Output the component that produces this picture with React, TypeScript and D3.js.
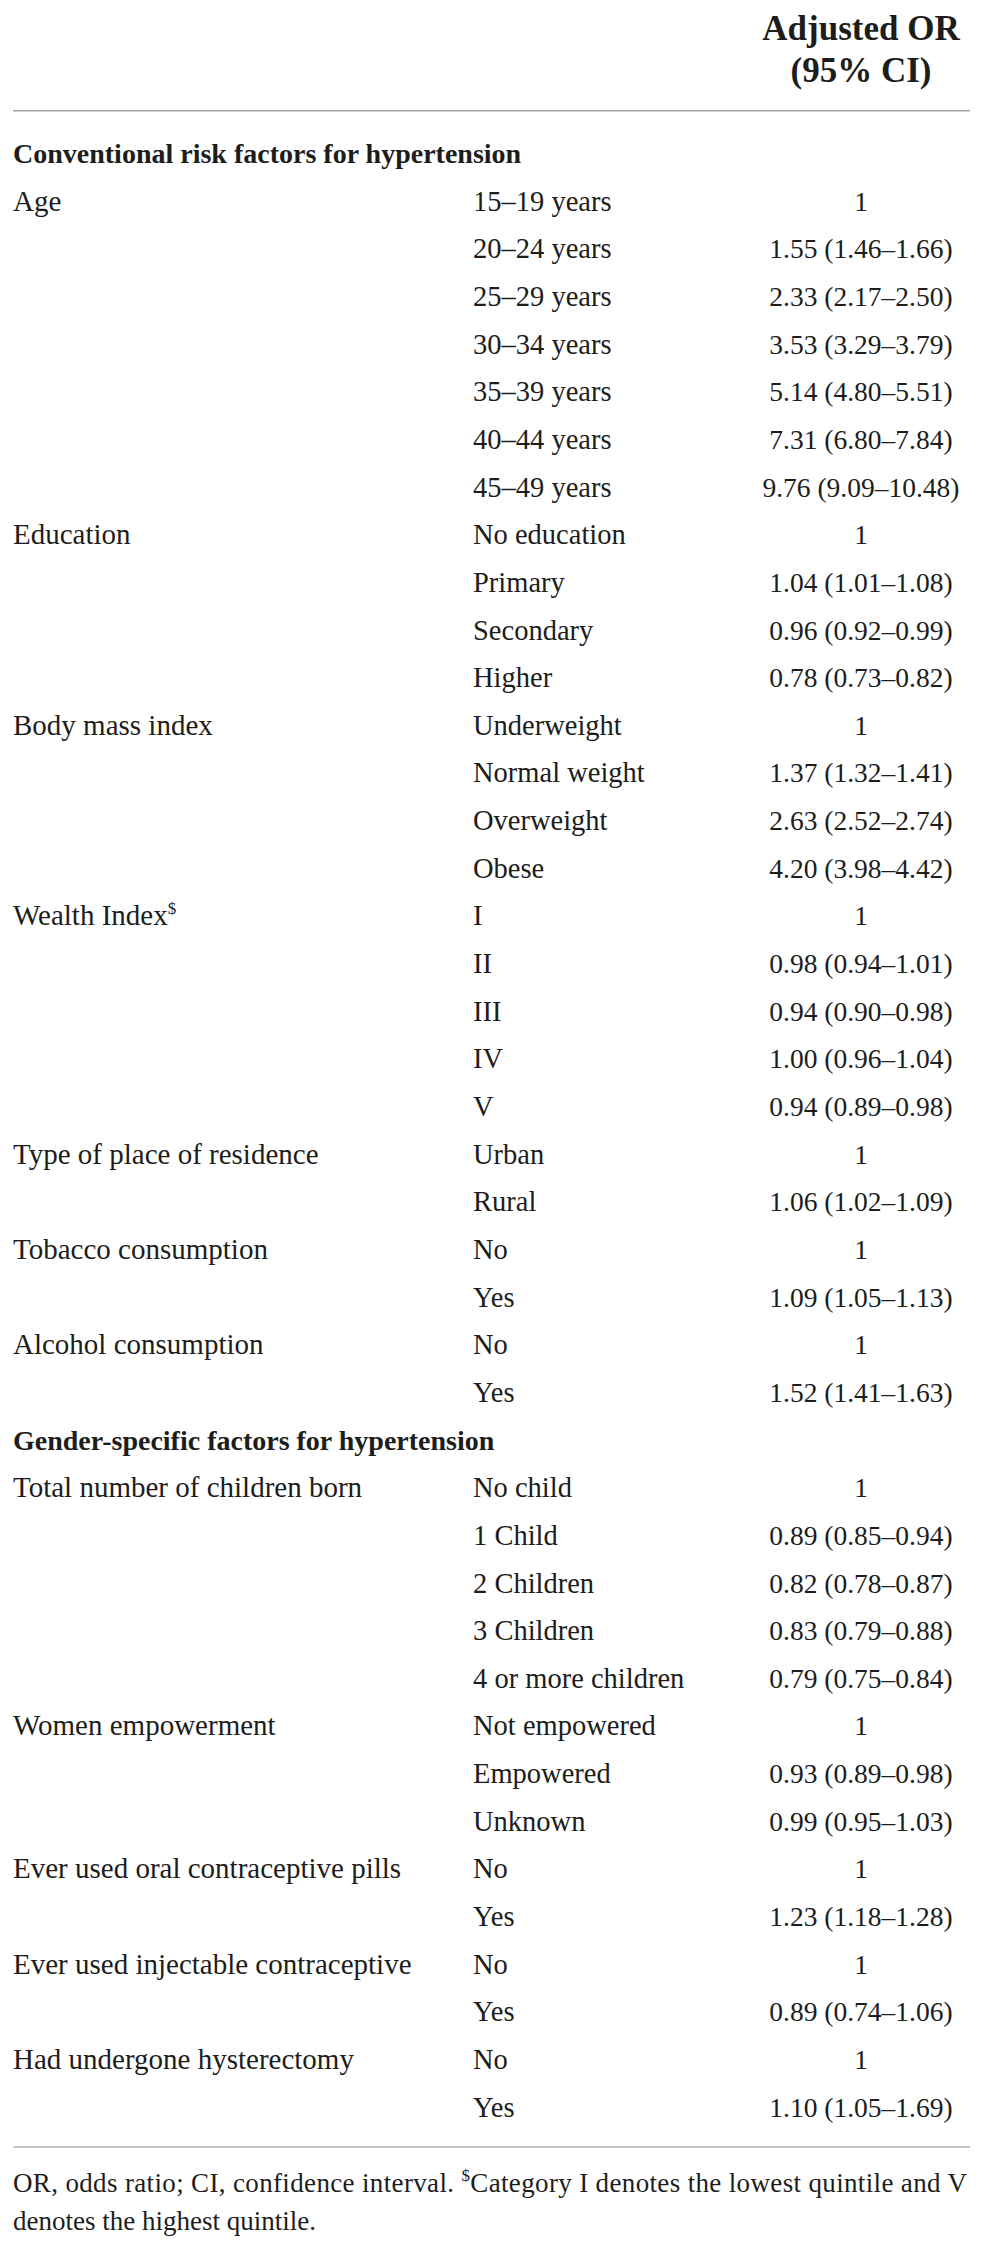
import React from "react";
import * as d3 from "d3";

const sectionTitles = [
  "Conventional risk factors for hypertension",
  "Gender-specific factors for hypertension",
];

const factorNames = [
  "Age",
  "Education",
  "Body mass index",
  "Wealth Index",
  "Type of place of residence",
  "Tobacco consumption",
  "Alcohol consumption",
  "Total number of children born",
  "Women empowerment",
  "Ever used oral contraceptive pills",
  "Ever used injectable contraceptive",
  "Had undergone hysterectomy",
];
const factorSection = [0, 0, 0, 0, 0, 0, 0, 1, 1, 1, 1, 1];
const factorMark = ["", "", "", "$", "", "", "", "", "", "", "", ""];

const categories = [
  ["15–19 years", "20–24 years", "25–29 years", "30–34 years", "35–39 years", "40–44 years", "45–49 years"],
  ["No education", "Primary", "Secondary", "Higher"],
  ["Underweight", "Normal weight", "Overweight", "Obese"],
  ["I", "II", "III", "IV", "V"],
  ["Urban", "Rural"],
  ["No", "Yes"],
  ["No", "Yes"],
  ["No child", "1 Child", "2 Children", "3 Children", "4 or more children"],
  ["Not empowered", "Empowered", "Unknown"],
  ["No", "Yes"],
  ["No", "Yes"],
  ["No", "Yes"],
];

const oddsRatio = [
  [1, 1.55, 2.33, 3.53, 5.14, 7.31, 9.76],
  [1, 1.04, 0.96, 0.78],
  [1, 1.37, 2.63, 4.2],
  [1, 0.98, 0.94, 1.0, 0.94],
  [1, 1.06],
  [1, 1.09],
  [1, 1.52],
  [1, 0.89, 0.82, 0.83, 0.79],
  [1, 0.93, 0.99],
  [1, 1.23],
  [1, 0.89],
  [1, 1.1],
];

const ciLower = [
  [null, 1.46, 2.17, 3.29, 4.8, 6.8, 9.09],
  [null, 1.01, 0.92, 0.73],
  [null, 1.32, 2.52, 3.98],
  [null, 0.94, 0.9, 0.96, 0.89],
  [null, 1.02],
  [null, 1.05],
  [null, 1.41],
  [null, 0.85, 0.78, 0.79, 0.75],
  [null, 0.89, 0.95],
  [null, 1.18],
  [null, 0.74],
  [null, 1.05],
];

const ciUpper = [
  [null, 1.66, 2.5, 3.79, 5.51, 7.84, 10.48],
  [null, 1.08, 0.99, 0.82],
  [null, 1.41, 2.74, 4.42],
  [null, 1.01, 0.98, 1.04, 0.98],
  [null, 1.09],
  [null, 1.13],
  [null, 1.63],
  [null, 0.94, 0.87, 0.88, 0.84],
  [null, 0.98, 1.03],
  [null, 1.28],
  [null, 1.06],
  [null, 1.69],
];

const headerLines = ["Adjusted OR", "(95% CI)"];
const footnoteA = "OR, odds ratio; CI, confidence interval. ";
const footnoteMark = "$";
const footnoteB = "Category I denotes the lowest quintile and V";
const footnoteC = "denotes the highest quintile.";

type Row =
  | { kind: "section"; text: string }
  | { kind: "data"; factor: string; mark: string; category: string; value: string };

export default function App() {
  const W = 982;
  const H = 2247;
  const font = "'Liberation Serif', 'Times New Roman', serif";
  const ink = "#1d1d1b";
  const fmt = d3.format(".2f");

  const rows: Row[] = [];
  sectionTitles.forEach((title, s) => {
    rows.push({ kind: "section", text: title });
    factorNames.forEach((name, f) => {
      if (factorSection[f] !== s) return;
      categories[f].forEach((cat, c) => {
        const lo = ciLower[f][c];
        const hi = ciUpper[f][c];
        const or = oddsRatio[f][c];
        const value = lo == null || hi == null ? String(or) : `${fmt(or)} (${fmt(lo)}–${fmt(hi)})`;
        rows.push({
          kind: "data",
          factor: c === 0 ? name : "",
          mark: c === 0 ? factorMark[f] : "",
          category: cat,
          value,
        });
      });
    });
  });

  const y = d3
    .scaleLinear()
    .domain([0, rows.length - 1])
    .range([163, 2116.7]);

  const colX = d3.scaleOrdinal<string, number>().domain(["factor", "category", "value"]).range([13, 473, 861]);

  return (
    <svg
      width={W}
      height={H}
      style={{ position: "absolute", left: 0, top: 0, display: "block", background: "#fff" }}
      fontFamily={font}
      fill={ink}
    >
      <rect x={0} y={0} width={W} height={H} fill="#fff" />
      {headerLines.map((t, i) => (
        <text
          key={t}
          x={colX("value")}
          y={40 + i * 42}
          textAnchor="middle"
          fontWeight="bold"
          fontSize={35}
        >
          {t}
        </text>
      ))}
      <line x1={13} x2={970} y1={110.7} y2={110.7} stroke="#a6a6a6" strokeWidth={1.6} />

      {rows.map((r, i) =>
        r.kind === "section" ? (
          <text key={i} x={colX("factor")} y={y(i)} fontWeight="bold" fontSize={28}>
            {r.text}
          </text>
        ) : (
          <g key={i}>
            {r.factor && (
              <text x={colX("factor")} y={y(i)} fontSize={29}>
                {r.factor}
                {r.mark && (
                  <tspan fontSize={17} dy={-11}>
                    {r.mark}
                  </tspan>
                )}
              </text>
            )}
            <text x={colX("category")} y={y(i)} fontSize={28.5}>
              {r.category}
            </text>
            <text x={colX("value")} y={y(i)} fontSize={27.5} textAnchor="middle">
              {r.value}
            </text>
          </g>
        )
      )}

      <line x1={13} x2={970} y1={2147} y2={2147} stroke="#c8c8c8" strokeWidth={2} />
      <text x={13} y={2192} fontSize={27} textLength={954} lengthAdjust="spacing">
        {footnoteA}
        <tspan fontSize={17} dy={-11}>
          {footnoteMark}
        </tspan>
        <tspan dy={11}>{footnoteB}</tspan>
      </text>
      <text x={13} y={2230} fontSize={27}>
        {footnoteC}
      </text>
    </svg>
  );
}
